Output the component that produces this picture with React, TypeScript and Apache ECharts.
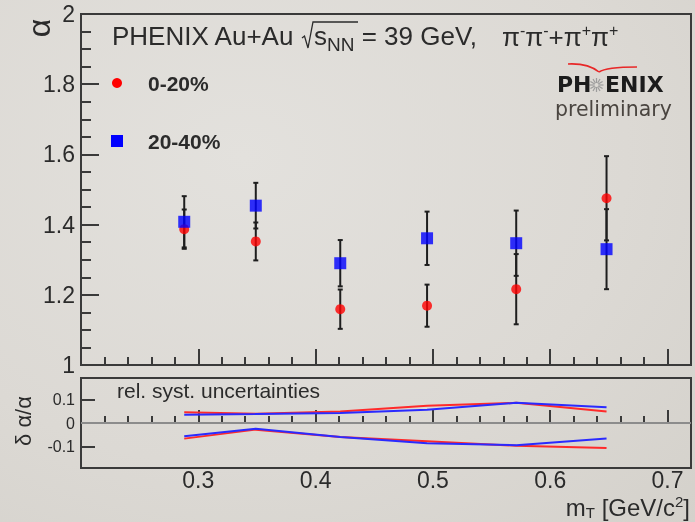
import React, { useEffect, useRef } from 'react';
import * as echarts from 'echarts';

// ---- data ----
const mT = [0.288, 0.349, 0.421, 0.495, 0.571, 0.648];
const alpha0020 = [1.387, 1.352, 1.159, 1.169, 1.216, 1.475];
const err0020 = [0.056, 0.054, 0.056, 0.06, 0.1, 0.12];
const alpha2040 = [1.408, 1.454, 1.29, 1.361, 1.347, 1.33];
const err2040 = [0.073, 0.065, 0.066, 0.076, 0.093, 0.114];
const systUp0020 = [0.045, 0.039, 0.049, 0.073, 0.085, 0.049];
const systLo0020 = [-0.066, -0.028, -0.059, -0.077, -0.096, -0.106];
const systUp2040 = [0.035, 0.038, 0.042, 0.056, 0.085, 0.066];
const systLo2040 = [-0.056, -0.024, -0.059, -0.085, -0.094, -0.065];
const legendLabels = ['0-20%', '20-40%'];

const FONT = "'Liberation Sans', Arial, sans-serif";
const LOGO_FONT = "'DejaVu Sans', sans-serif";
const INK = '#2b2b2b';
const FRAME = '#3a3a3a';
const RED = '#ff0000';
const BLUE = '#0000ff';

const pairs = (xs: number[], ys: number[]) => xs.map((x, i) => [x, ys[i]]);
const errData = (xs: number[], ys: number[], es: number[]) =>
  xs.map((x, i) => [x, ys[i] - es[i], ys[i] + es[i]]);

function txt(text: string, x: number, y: number, size: number, extra: any = {}) {
  return {
    type: 'text',
    x,
    y,
    silent: true,
    rotation: extra.rotation || 0,
    style: {
      text,
      fontSize: size,
      fontFamily: extra.fontFamily || FONT,
      fontWeight: extra.fontWeight || 'normal',
      fill: extra.fill || INK,
      align: extra.align || 'left',
      verticalAlign: 'middle',
      rich: extra.rich,
      lineHeight: extra.lineHeight,
    },
  };
}

const tok = (fontSize: number, lineHeight: number, va: string) => ({
  fontSize, lineHeight, verticalAlign: va, fontFamily: FONT, fill: INK, color: INK,
});

export default function App() {
  const ref = useRef<HTMLDivElement>(null);
  useEffect(() => {
    if (!ref.current) return;
    const chart = echarts.init(ref.current, undefined, { renderer: 'svg' });

    const errRender = (params: any, api: any) => {
      const x = api.value(0);
      const p1 = api.coord([x, api.value(1)]);
      const p2 = api.coord([x, api.value(2)]);
      const c = 2.5;
      const st = { stroke: '#1e1e1e', lineWidth: 2 };
      return {
        type: 'group',
        children: [
          { type: 'line', shape: { x1: p1[0], y1: p1[1], x2: p2[0], y2: p2[1] }, style: st },
          { type: 'line', shape: { x1: p1[0] - c, y1: p1[1], x2: p1[0] + c, y2: p1[1] }, style: st },
          { type: 'line', shape: { x1: p2[0] - c, y1: p2[1], x2: p2[0] + c, y2: p2[1] }, style: st },
        ],
      };
    };

    const starSpokes: any[] = [];
    for (let k = 0; k < 12; k++) {
      const a = (k * Math.PI) / 6;
      starSpokes.push({
        type: 'line',
        silent: true,
        shape: {
          x1: 596.5 + 2 * Math.cos(a),
          y1: 85 + 2 * Math.sin(a),
          x2: 596.5 + 7 * Math.cos(a),
          y2: 85 + 7 * Math.sin(a),
        },
        style: { stroke: '#9c9c9c', lineWidth: 1.2 },
      });
    }

    const axisTickStyle = { color: FRAME, width: 2 };

    chart.setOption({
      animation: false,
      backgroundColor: 'transparent',
      grid: [
        { left: 81, right: 4, top: 14, height: 351, show: true, borderColor: FRAME, borderWidth: 2, backgroundColor: 'transparent' },
        { left: 81, right: 4, top: 378, height: 90, show: true, borderColor: FRAME, borderWidth: 2, backgroundColor: 'transparent' },
      ],
      xAxis: [
        {
          type: 'value', gridIndex: 0, min: 0.2, max: 0.72, interval: 0.1,
          axisLine: { show: false },
          axisTick: { show: true, inside: true, length: 16, lineStyle: axisTickStyle },
          minorTick: { show: true, splitNumber: 5, length: 8, lineStyle: axisTickStyle },
          axisLabel: { show: false },
          splitLine: { show: false },
        },
        {
          type: 'value', gridIndex: 1, min: 0.2, max: 0.72, interval: 0.1,
          axisLine: { show: false },
          axisTick: { show: true, inside: true, length: 13, lineStyle: axisTickStyle },
          minorTick: { show: true, splitNumber: 5, length: 7, lineStyle: axisTickStyle },
          axisLabel: { show: true, fontSize: 23, lineHeight: 18, fontFamily: FONT, color: INK, margin: 3, showMinLabel: false, showMaxLabel: false },
          splitLine: { show: false },
        },
      ],
      yAxis: [
        {
          type: 'value', gridIndex: 0, min: 1, max: 2, interval: 0.2,
          axisLine: { show: false },
          axisTick: { show: true, inside: true, length: 18, lineStyle: axisTickStyle },
          minorTick: { show: true, splitNumber: 4, length: 10, lineStyle: axisTickStyle },
          axisLabel: { show: true, fontSize: 23, fontFamily: FONT, color: INK, margin: 6 },
          splitLine: { show: false },
        },
        {
          type: 'value', gridIndex: 1, min: -0.19, max: 0.19, splitNumber: 4,
          axisLine: { show: false },
          axisTick: { show: true, inside: true, length: 14, lineStyle: axisTickStyle },
          axisLabel: { show: true, fontSize: 16, fontFamily: FONT, color: INK, margin: 6, showMinLabel: false, showMaxLabel: false },
          splitLine: { show: false },
        },
      ],
      series: [
        {
          type: 'custom', name: 'err0020', xAxisIndex: 0, yAxisIndex: 0,
          renderItem: errRender, encode: { x: 0, y: [1, 2] },
          data: errData(mT, alpha0020, err0020), z: 2, silent: true,
        },
        {
          type: 'custom', name: 'err2040', xAxisIndex: 0, yAxisIndex: 0,
          renderItem: errRender, encode: { x: 0, y: [1, 2] },
          data: errData(mT, alpha2040, err2040), z: 2, silent: true,
        },
        {
          type: 'scatter', name: legendLabels[0], xAxisIndex: 0, yAxisIndex: 0,
          symbol: 'circle', symbolSize: 10, itemStyle: { color: RED },
          data: pairs(mT, alpha0020), z: 3,
        },
        {
          type: 'scatter', name: legendLabels[1], xAxisIndex: 0, yAxisIndex: 0,
          symbol: 'rect', symbolSize: 12, itemStyle: { color: BLUE },
          data: pairs(mT, alpha2040), z: 4,
        },
        {
          type: 'line', name: 'systUp0020', xAxisIndex: 1, yAxisIndex: 1,
          showSymbol: false, symbol: 'none', lineStyle: { color: '#ff2a2a', width: 2 },
          data: pairs(mT, systUp0020), z: 3,
          markLine: {
            silent: true, symbol: 'none', label: { show: false },
            lineStyle: { color: '#8c8c8c', width: 2, type: 'solid' },
            data: [{ yAxis: 0 }],
          },
        },
        {
          type: 'line', name: 'systLo0020', xAxisIndex: 1, yAxisIndex: 1,
          showSymbol: false, symbol: 'none', lineStyle: { color: '#ff2a2a', width: 2 },
          data: pairs(mT, systLo0020), z: 3,
        },
        {
          type: 'line', name: 'systUp2040', xAxisIndex: 1, yAxisIndex: 1,
          showSymbol: false, symbol: 'none', lineStyle: { color: '#2a2aff', width: 2 },
          data: pairs(mT, systUp2040), z: 4,
        },
        {
          type: 'line', name: 'systLo2040', xAxisIndex: 1, yAxisIndex: 1,
          showSymbol: false, symbol: 'none', lineStyle: { color: '#2a2aff', width: 2 },
          data: pairs(mT, systLo2040), z: 4,
        },
      ],
      graphic: [
        // title
        txt('PHENIX Au+Au', 112, 36, 26),
        {
          type: 'polyline', silent: true,
          shape: { points: [[302, 38], [304.5, 36], [308, 48], [313, 22], [358, 22]] },
          style: { stroke: INK, lineWidth: 1.3, fill: 'none' },
        },
        txt('{b|s}{sub|NN}{b| = 39 GeV,}', 314, 36, 26, {
          lineHeight: 36,
          rich: { b: tok(26, 36, 'middle'), sub: tok(19, 19, 'bottom') },
        }),
        txt('{b|π}{sup|-}{b|π}{sup|-}{b|+π}{sup|+}{b|π}{sup|+}', 502, 37, 26, {
          lineHeight: 30,
          rich: { b: tok(26, 30, 'middle'), sup: tok(16, 14, 'top') },
        }),
        // legend
        { type: 'circle', silent: true, shape: { cx: 117, cy: 83, r: 5 }, style: { fill: RED } },
        txt(legendLabels[0], 148, 83, 21, { fontWeight: 'bold' }),
        { type: 'rect', silent: true, shape: { x: 111, y: 135, width: 12, height: 12 }, style: { fill: BLUE } },
        txt(legendLabels[1], 148, 141, 21, { fontWeight: 'bold' }),
        // PHENIX logo
        {
          type: 'bezierCurve', silent: true,
          shape: { x1: 568, y1: 64, cpx1: 588, cpy1: 63, x2: 599, y2: 72 },
          style: { stroke: '#e82828', lineWidth: 1.6, fill: 'none' },
        },
        {
          type: 'bezierCurve', silent: true,
          shape: { x1: 599, y1: 72, cpx1: 606, cpy1: 67, x2: 637, y2: 67 },
          style: { stroke: '#e82828', lineWidth: 1.6, fill: 'none' },
        },
        ...starSpokes,
        txt('PH', 557, 84.4, 22, { fontFamily: LOGO_FONT, fontWeight: 'bold', fill: '#1c1c1c', lineHeight: 18 }),
        txt('ENIX', 605, 84.4, 22, { fontFamily: LOGO_FONT, fontWeight: 'bold', fill: '#1c1c1c', lineHeight: 18 }),
        txt('preliminary', 555, 109.3, 20.5, { fontFamily: LOGO_FONT, fill: '#4a4540', lineHeight: 18 }),
        // lower panel label
        txt('rel. syst. uncertainties', 117, 390, 21),
        // axis titles
        txt('α', 39, 28, 32, { align: 'center', rotation: Math.PI / 2 }),
        txt('δ α/α', 23, 421, 22, { align: 'center', rotation: Math.PI / 2 }),
        txt('{b|m}{sub|T}{b| [GeV/c}{sup|2}{b|]}', 690, 507, 24, {
          align: 'right',
          lineHeight: 26,
          rich: { b: tok(24, 26, 'middle'), sub: tok(15, 15, 'bottom'), sup: tok(15, 15, 'top') },
        }),
      ],
    });
    return () => chart.dispose();
  }, []);

  return (
    <div
      style={{
        position: 'fixed', left: 0, top: 0, width: 695, height: 522,
        background: 'radial-gradient(ellipse at 35% 30%, #e3e1dd 0%, #dcd9d4 60%, #d4d1cb 100%)',
      }}
    >
      <div ref={ref} style={{ width: 695, height: 522 }} />
    </div>
  );
}
